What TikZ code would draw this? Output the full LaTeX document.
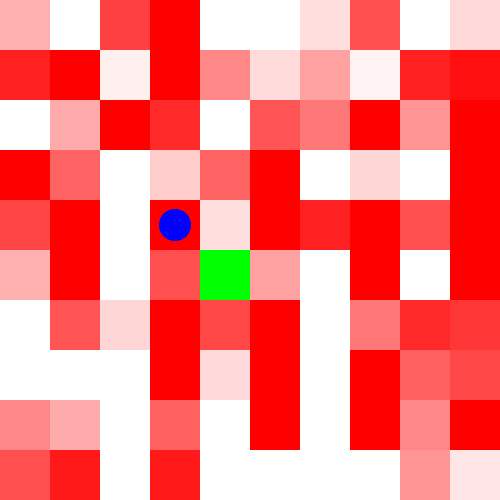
\documentclass[tikz,border=0pt]{standalone}
\usepackage{tikz}

\begin{document}
\begin{tikzpicture}[x=1cm, y=1cm]

\fill[white] (0,0) rectangle (10,10);
\useasboundingbox (0,0) rectangle (10,10);

%% row 1
\fill[red!31] (0,9) rectangle (1,10);
\fill[red!75] (2,9) rectangle (3,10);
\fill[red] (3,9) rectangle (4,10);
\fill[red!13] (6,9) rectangle (7,10);
\fill[red!69] (7,9) rectangle (8,10);
\fill[red!15] (9,9) rectangle (10,10);

%% row 2
\fill[red!87] (0,8) rectangle (1,9);
\fill[red] (1,8) rectangle (2,9);
\fill[red!6] (2,8) rectangle (3,9);
\fill[red] (3,8) rectangle (4,9);
\fill[red!47] (4,8) rectangle (5,9);
\fill[red!14] (5,8) rectangle (6,9);
\fill[red!37] (6,8) rectangle (7,9);
\fill[red!5] (7,8) rectangle (8,9);
\fill[red!87] (8,8) rectangle (9,9);
\fill[red!94] (9,8) rectangle (10,9);

%% row 3
\fill[red!33] (1,7) rectangle (2,8);
\fill[red] (2,7) rectangle (3,8);
\fill[red!83] (3,7) rectangle (4,8);
\fill[red!67] (5,7) rectangle (6,8);
\fill[red!53] (6,7) rectangle (7,8);
\fill[red] (7,7) rectangle (8,8);
\fill[red!42] (8,7) rectangle (9,8);
\fill[red] (9,7) rectangle (10,8);

%% row 4
\fill[red] (0,6) rectangle (1,7);
\fill[red!61] (1,6) rectangle (2,7);
\fill[red!20] (3,6) rectangle (4,7);
\fill[red!61] (4,6) rectangle (5,7);
\fill[red] (5,6) rectangle (6,7);
\fill[red!16] (7,6) rectangle (8,7);
\fill[red] (9,6) rectangle (10,7);

%% row 5
\fill[red!73] (0,5) rectangle (1,6);
\fill[red] (1,5) rectangle (2,6);
\fill[red] (3,5) rectangle (4,6);
\fill[red!13] (4,5) rectangle (5,6);
\fill[red] (5,5) rectangle (6,6);
\fill[red!87] (6,5) rectangle (7,6);
\fill[red] (7,5) rectangle (8,6);
\fill[red!69] (8,5) rectangle (9,6);
\fill[red] (9,5) rectangle (10,6);

%% row 6
\fill[red!31] (0,4) rectangle (1,5);
\fill[red] (1,4) rectangle (2,5);
\fill[red!69] (3,4) rectangle (4,5);
\fill[green] (4,4) rectangle (5,5);
\fill[red!37] (5,4) rectangle (6,5);
\fill[red] (7,4) rectangle (8,5);
\fill[red] (9,4) rectangle (10,5);

%% row 7
\fill[red!67] (1,3) rectangle (2,4);
\fill[red!16] (2,3) rectangle (3,4);
\fill[red] (3,3) rectangle (4,4);
\fill[red!72] (4,3) rectangle (5,4);
\fill[red] (5,3) rectangle (6,4);
\fill[red!53] (7,3) rectangle (8,4);
\fill[red!84] (8,3) rectangle (9,4);
\fill[red!79] (9,3) rectangle (10,4);

%% row 8
\fill[red] (3,2) rectangle (4,3);
\fill[red!15] (4,2) rectangle (5,3);
\fill[red] (5,2) rectangle (6,3);
\fill[red] (7,2) rectangle (8,3);
\fill[red!62] (8,2) rectangle (9,3);
\fill[red!72] (9,2) rectangle (10,3);

%% row 9
\fill[red!47] (0,1) rectangle (1,2);
\fill[red!33] (1,1) rectangle (2,2);
\fill[red!62] (3,1) rectangle (4,2);
\fill[red] (5,1) rectangle (6,2);
\fill[red] (7,1) rectangle (8,2);
\fill[red!47] (8,1) rectangle (9,2);
\fill[red] (9,1) rectangle (10,2);

%% row 10
\fill[red!69] (0,0) rectangle (1,1);
\fill[red!90] (1,0) rectangle (2,1);
\fill[red!90] (3,0) rectangle (4,1);
\fill[red!42] (8,0) rectangle (9,1);
\fill[red!10] (9,0) rectangle (10,1);

%% agent
\fill[blue] (3.5,5.5) circle (0.32);

\end{tikzpicture}
\end{document}
